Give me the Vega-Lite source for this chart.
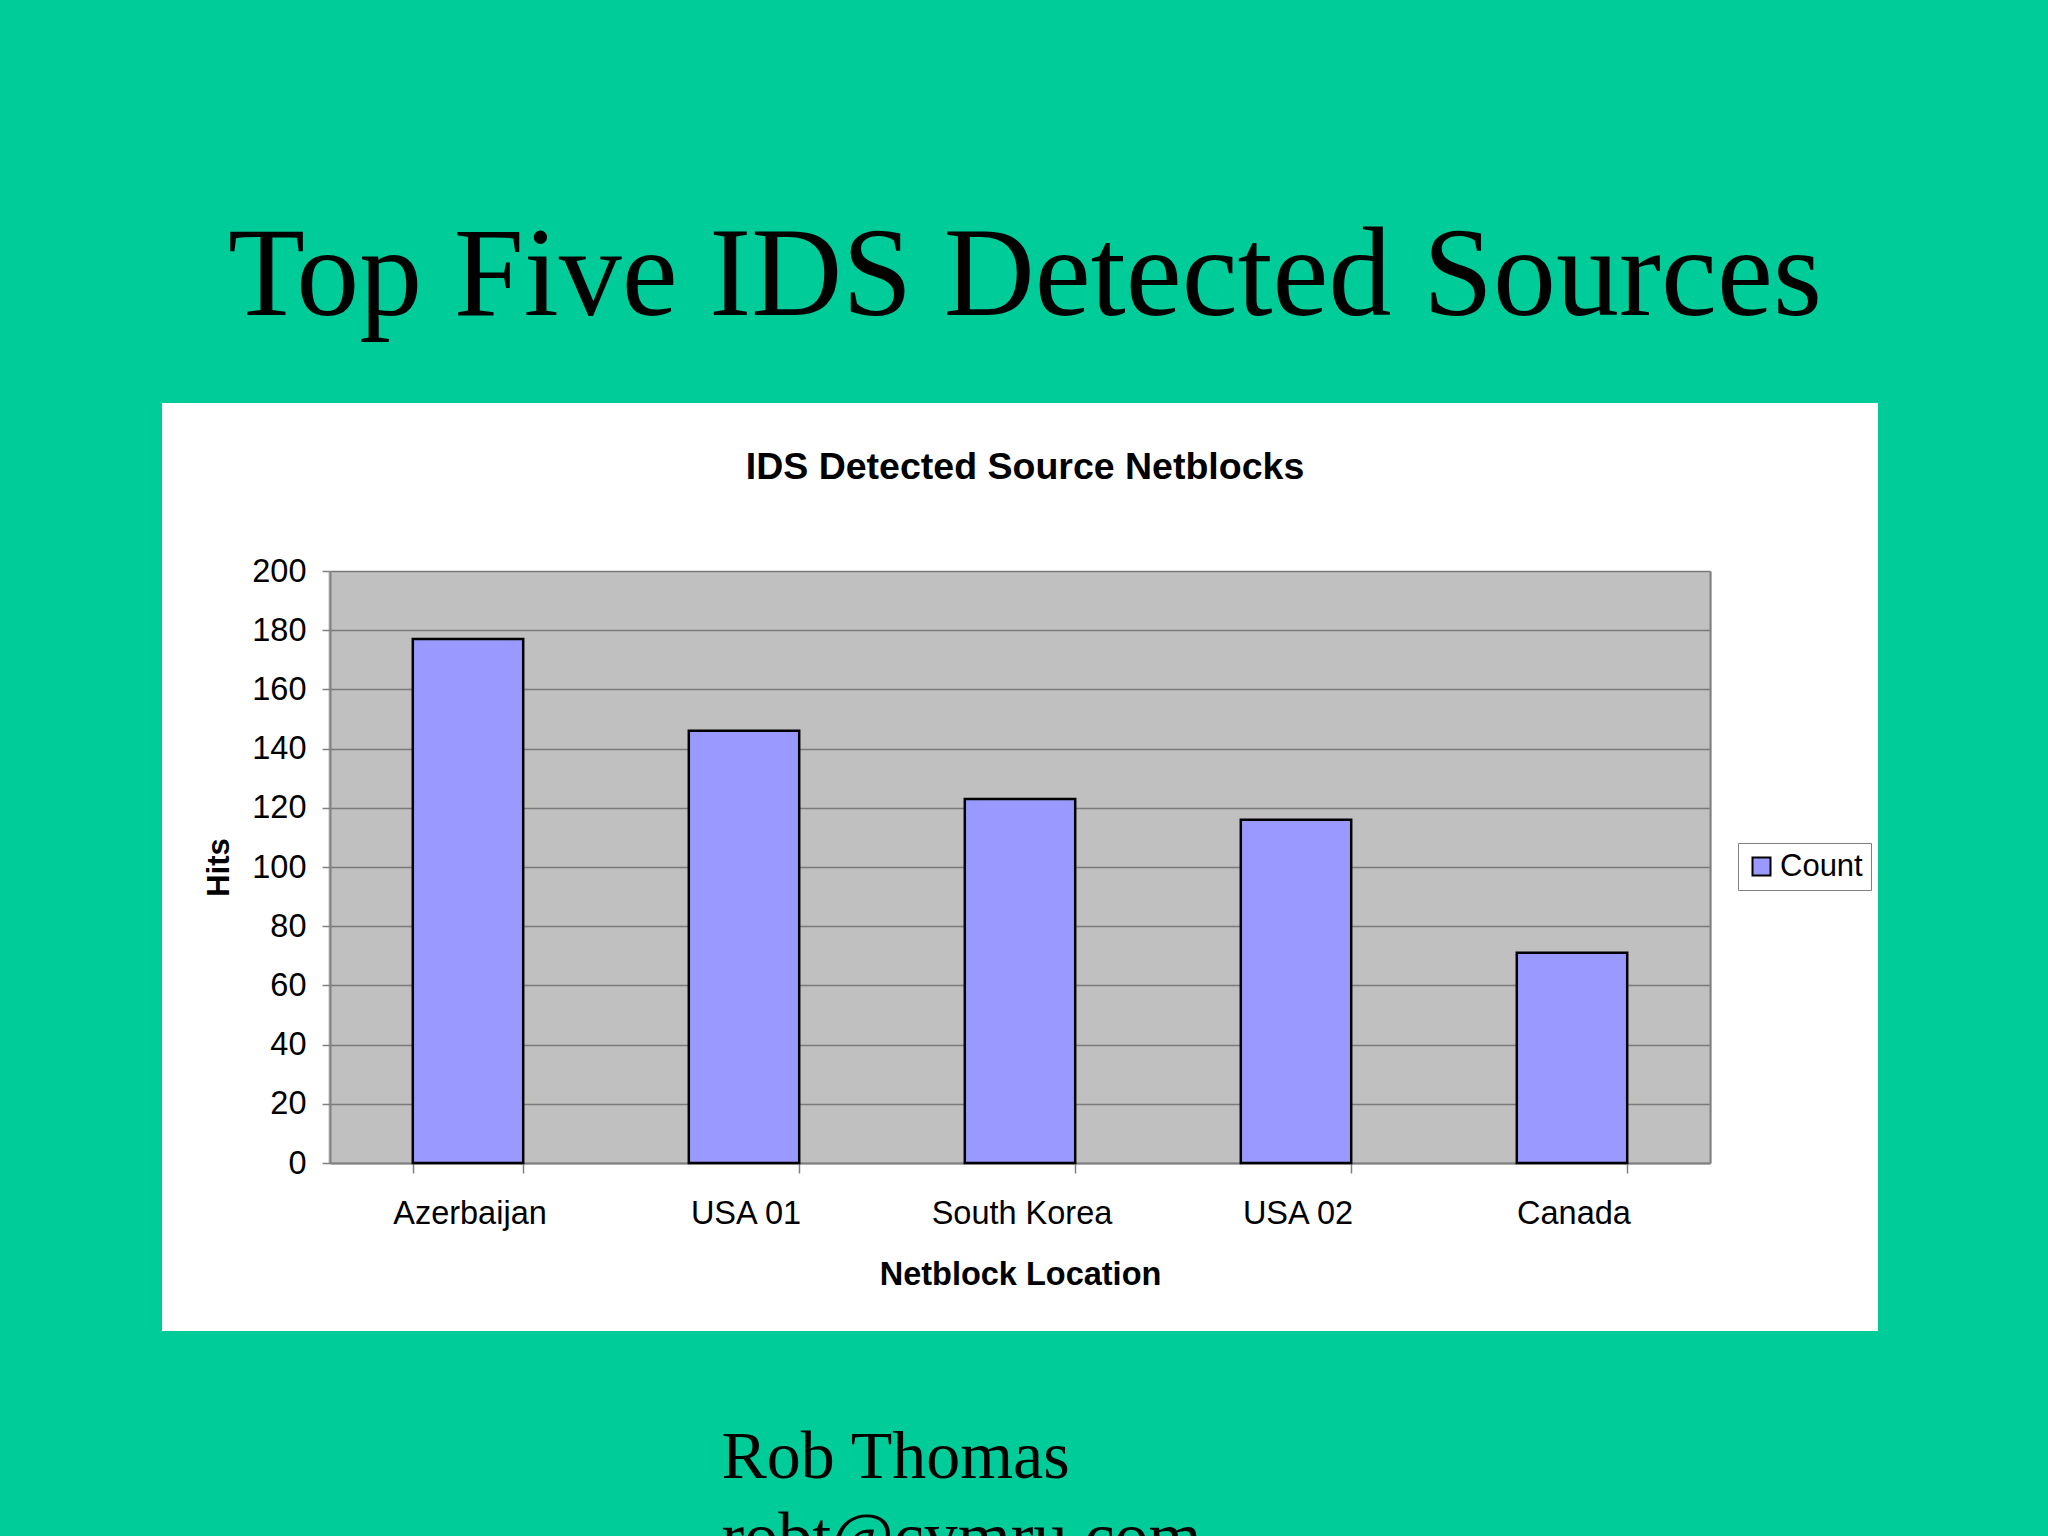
{
  "$schema": "https://vega.github.io/schema/vega-lite/v6.json",
  "autosize": {"type": "none"},
  "width": 1380,
  "height": 592,
  "padding": {"left": 330, "top": 571, "right": 338, "bottom": 373},
  "background": "#00CC99",
  "title": {
    "text": "Top Five IDS Detected Sources",
    "subtitle": "IDS Detected Source Netblocks",
    "anchor": "middle",
    "frame": "group",
    "orient": "top",
    "dx": 5,
    "font": "Liberation Serif",
    "fontSize": 126,
    "fontWeight": "normal",
    "color": "#000000",
    "subtitleFont": "Liberation Sans",
    "subtitleFontSize": 37.5,
    "subtitleFontWeight": "bold",
    "subtitleColor": "#000000",
    "subtitlePadding": 108,
    "offset": 68
  },
  "data": {
    "values": [
      {"location": "Azerbaijan", "hits": 177, "series": "Count"},
      {"location": "USA 01", "hits": 146, "series": "Count"},
      {"location": "South Korea", "hits": 123, "series": "Count"},
      {"location": "USA 02", "hits": 116, "series": "Count"},
      {"location": "Canada", "hits": 71, "series": "Count"}
    ]
  },
  "layer": [
    {
      "mark": {"type": "bar", "strokeWidth": 0},
      "encoding": {
        "x": {
          "field": "location", "type": "nominal", "sort": null,
          "scale": {"paddingInner": 0.6, "paddingOuter": 0.3},
          "axis": {
            "orient": "bottom",
            "tickBand": "center",
            "domain": true, "domainColor": "#808080", "domainWidth": 2,
            "grid": true, "gridColor": "#C0C0C0", "gridWidth": 278,
            "ticks": true, "tickOpacity": 0, "tickSize": 10,
            "labels": true, "labelAngle": 0, "labelFont": "Liberation Sans", "labelFontSize": 32.5,
            "labelColor": "#000000", "labelPadding": 24, "labelLimit": 400, "labelOffset": 2,
            "title": "Netblock Location", "titleFont": "Liberation Sans", "titleFontSize": 32.5,
            "titleFontWeight": "bold", "titleColor": "#000000",
            "titleX": 690, "titleY": 121, "titleAlign": "center", "titleBaseline": "alphabetic"
          }
        },
        "y": {
          "field": "hits", "type": "quantitative",
          "scale": {"domain": [0, 200], "nice": false},
          "axis": {
            "orient": "left",
            "values": [0, 20, 40, 60, 80, 100, 120, 140, 160, 180, 200],
            "domain": true, "domainColor": "#808080", "domainWidth": 2,
            "grid": true, "gridColor": "#7A7A7A", "gridWidth": 1.3,
            "ticks": true, "tickSize": 8, "tickColor": "#808080", "tickWidth": 1.5,
            "labelFont": "Liberation Sans", "labelFontSize": 32.5, "labelColor": "#000000", "labelPadding": 16,
            "title": "Hits", "titleFont": "Liberation Sans", "titleFontSize": 31, "titleFontWeight": "bold",
            "titleColor": "#000000", "titleAngle": 270, "titleX": -111, "titleY": 296,
            "titleAlign": "center", "titleBaseline": "middle"
          }
        },
        "color": {
          "field": "series", "type": "nominal",
          "scale": {"domain": ["Count"], "range": ["#9999FF"]},
          "legend": {
            "title": null, "orient": "none", "legendX": 1408, "legendY": 272,
            "fillColor": "#FFFFFF", "strokeColor": "#808080", "padding": 8,
            "symbolType": "square", "symbolSize": 324, "symbolStrokeColor": "#000000", "symbolStrokeWidth": 2,
            "labelFont": "Liberation Sans", "labelFontSize": 31, "labelColor": "#000000", "labelOffset": 3
          }
        }
      }
    },
    {
      "mark": {"type": "bar", "fillOpacity": 0, "stroke": "#000000", "strokeWidth": 2.5},
      "encoding": {
        "x": {
          "field": "location", "type": "nominal", "sort": null,
          "axis": {
            "orient": "bottom",
            "tickBand": "extent",
            "domain": false, "grid": false, "labels": false,
            "ticks": true, "tickSize": 10, "tickColor": "#808080", "tickWidth": 1.5,
            "title": ["Rob Thomas", "robt@cymru.com"],
            "titleFont": "Liberation Serif", "titleFontSize": 68, "titleFontWeight": "normal",
            "titleColor": "#000000", "titleAngle": 0, "titleAlign": "left", "titleBaseline": "alphabetic",
            "titleX": 391, "titleY": 314, "titleLineHeight": 81
          }
        },
        "y": {
          "field": "hits", "type": "quantitative",
          "axis": {
            "orient": "right",
            "domain": true, "domainColor": "#808080", "domainWidth": 2,
            "ticks": false, "labels": false, "grid": false, "title": null
          }
        }
      }
    }
  ],
  "resolve": {"axis": {"x": "independent", "y": "independent"}},
  "config": {
    "view": {"stroke": "#FFFFFF", "strokeWidth": 336}
  }
}
